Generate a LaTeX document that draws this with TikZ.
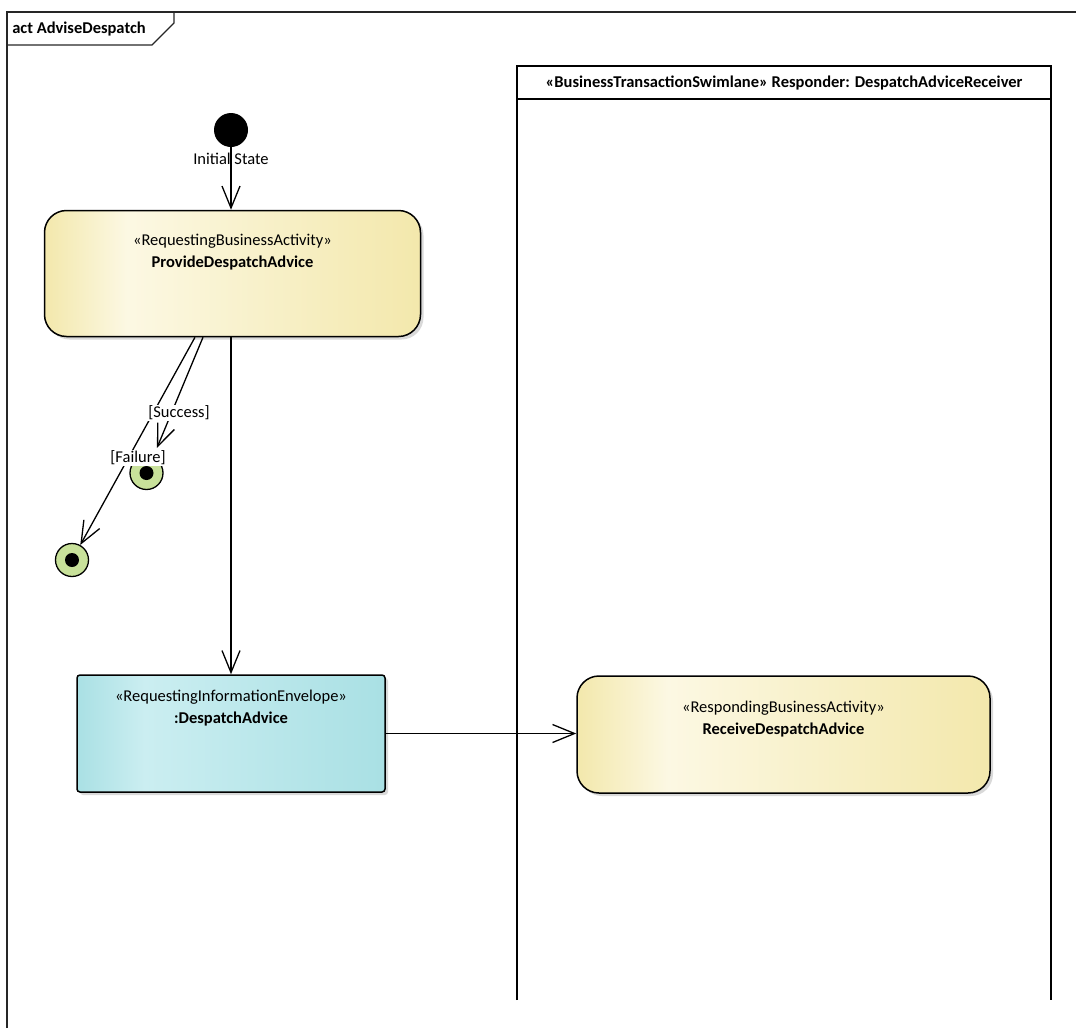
\documentclass[tikz,border=0pt]{standalone}
\usepackage{fontspec}
\setmainfont{Carlito}
\usetikzlibrary{arrows.meta,shadows,positioning}

\definecolor{actyellow}{HTML}{F3E8AC}
\definecolor{actlight}{HTML}{FCF8E3}
\definecolor{envcyan}{HTML}{A9E0E4}
\definecolor{envlight}{HTML}{CBEEF1}
\definecolor{finalgreen}{HTML}{C8E19A}

\pgfdeclarehorizontalshading{actshade}{100bp}{color(0bp)=(actyellow); color(25bp)=(actyellow);
  color(36bp)=(actlight); color(75bp)=(actyellow); color(100bp)=(actyellow)}
\pgfdeclarehorizontalshading{envshade}{100bp}{color(0bp)=(envcyan); color(25bp)=(envcyan);
  color(36bp)=(envlight); color(75bp)=(envcyan); color(100bp)=(envcyan)}

\tikzset{
  every node/.style={font=\fontsize{16.5}{22}\selectfont},
  flow/.style={draw, line width=1.3pt, -{Straight Barb[length=22pt,width=18pt,line width=1.3pt]}},
  lane/.style={draw, line width=1.6pt},
  titletxt/.style={font=\fontsize{16.5}{22}\selectfont\bfseries},
  stereo/.style={align=center, inner sep=0pt},
  activity/.style={draw, line width=1.5pt, rounded corners=22pt, shading=actshade,
    drop shadow={shadow xshift=3pt, shadow yshift=-3pt, fill=black!15, opacity=1}},
  envelope/.style={draw, line width=1.5pt, rounded corners=3pt, shading=envshade,
    drop shadow={shadow xshift=3pt, shadow yshift=-3pt, fill=black!15, opacity=1}},
  initnode/.style={circle, fill=black, minimum size=34pt, inner sep=0pt},
  finalnode/.style={circle, draw, line width=1.3pt, fill=finalgreen, minimum size=33pt, inner sep=0pt,
    path picture={\fill[black] (path picture bounding box.center) circle (7pt);}},
  guard/.style={fill=white, inner sep=1pt}
}

\begin{document}
\begin{tikzpicture}[x=1pt,y=-1pt]
\useasboundingbox (0,0) rectangle (1076,1028);
% marco
\draw[line width=1.3pt, black!85] (7,1028) -- (7,12) -- (1076,12);
\draw[line width=1.3pt, black!85] (7,45) -- (152,45) -- (174,23) -- (174,12);
\node[titletxt] (title) at (79,29) {act AdviseDespatch};
% carril
\draw[lane] (517,1000) -- (517,66) -- (1051,66) -- (1051,1000);
\draw[lane] (517,99) -- (1051,99);
\node[titletxt] (lanehead) at (784,83) {«BusinessTransactionSwimlane» Responder: DespatchAdviceReceiver};
% nodos
\node[initnode] (init) at (231,130) {};
\node (initlbl) at (231,159) {Initial State};
\node[activity, minimum width=376pt, minimum height=126pt] (provide) at (232.5,273.5) {};
\node[stereo] (provtxt) at ([yshift=-42pt]provide.north) {«RequestingBusinessActivity»\\\textbf{ProvideDespatchAdvice}};
\node[envelope, minimum width=308pt, minimum height=117pt] (envelope) at (231,733.5) {};
\node[stereo] (envtxt) at ([yshift=-34pt]envelope.north) {«RequestingInformationEnvelope»\\\textbf{:DespatchAdvice}};
\node[activity, minimum width=413pt, minimum height=117pt] (receive) at (783.5,734.5) {};
\node[stereo] (recvtxt) at ([yshift=-44pt]receive.north) {«RespondingBusinessActivity»\\\textbf{ReceiveDespatchAdvice}};
\node[finalnode] (endok) at (146.5,473) {};
\node[finalnode] (endfail) at (72,560) {};
% flujos
\draw[flow] (init) -- (init |- provide.north);
\draw[flow] (envelope.north |- provide.south) -- (envelope.north);
\draw[flow] (envelope.east) -- (envelope.east -| receive.west);
\draw[flow, shorten >=10pt] ([xshift=-29.5pt]provide.south) -- (endok);
\draw[flow] ([xshift=-37.5pt]provide.south) -- (endfail);
\node[guard] (succ) at (179,413) {[Success]};
\node[guard] (fail) at (138,458) {[Failure]};
\end{tikzpicture}
\end{document}
